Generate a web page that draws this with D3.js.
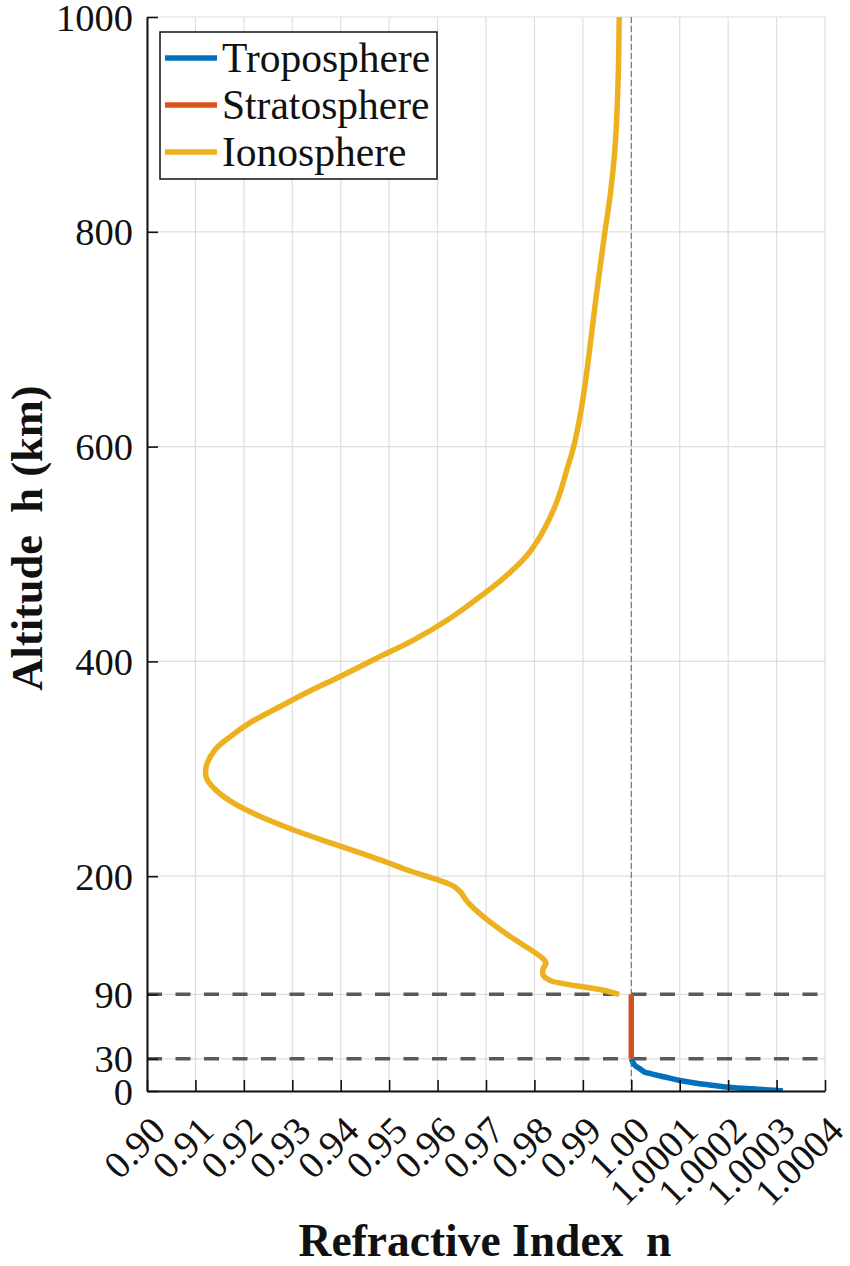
<!DOCTYPE html>
<html>
<head>
<meta charset="utf-8">
<script src="https://cdn.jsdelivr.net/npm/d3@7"></script>
<style>
  html, body { margin: 0; padding: 0; background: #ffffff; }
  svg { display: block; }
  text { font-family: "Liberation Serif", "Times New Roman", serif; fill: #111; }
</style>
</head>
<body>
<svg id="chart" width="850" height="1266"></svg>
<script>
// ---------------- data ----------------
const seriesNames = ["Troposphere", "Stratosphere", "Ionosphere"];
const seriesColors = ["#0072BD", "#D95319", "#EDB120"];

// [altitude km, refractive index]
const troposphere = [
  [30, 1.0000000], [27, 1.0000030], [24, 1.0000070], [21, 1.0000170],
  [18, 1.0000260], [16, 1.0000420], [13, 1.0000700], [10, 1.0000980],
  [8, 1.0001250], [6, 1.0001550], [4, 1.0001900], [3, 1.0002150],
  [2, 1.0002500], [1, 1.0002850], [0, 1.0003130]
];
const stratosphere = [
  [30, 1.0000000], [90, 1.0000000]
];
const ionosphere = [
  [90, 0.9975], [94.5, 0.9935], [97, 0.9900], [100, 0.9860], [103, 0.9832],
  [108, 0.9818], [114, 0.9818], [119, 0.9824], [123, 0.9818], [127, 0.9807],
  [136, 0.9777], [146, 0.9743], [160, 0.9701], [175, 0.9664], [186, 0.9646],
  [191, 0.9632], [197, 0.9598], [206, 0.9536], [213, 0.9495], [228, 0.9399],
  [243, 0.9303], [257, 0.9227], [268, 0.9179], [279, 0.9145], [290, 0.9124],
  [297, 0.9121], [305, 0.9124], [318, 0.9141], [330, 0.9172], [343, 0.9213],
  [358, 0.9275], [371, 0.9330], [386, 0.9399], [402, 0.9470], [420, 0.9551],
  [439, 0.9622], [455, 0.9672], [470, 0.9716], [485, 0.9755], [500, 0.9787],
  [515, 0.9810], [530, 0.9828], [545, 0.9843], [560, 0.9855], [580, 0.9868],
  [600, 0.9881], [628, 0.9894], [656, 0.9904], [694, 0.9915], [731, 0.9925],
  [765, 0.9935], [800, 0.99455], [836, 0.9957], [882, 0.9967], [945, 0.9973],
  [1000, 0.9975]
];

const xTicks = [0.90, 0.91, 0.92, 0.93, 0.94, 0.95, 0.96, 0.97, 0.98, 0.99, 1.00,
                1.0001, 1.0002, 1.0003, 1.0004];
const xTickLabels = ["0.90", "0.91", "0.92", "0.93", "0.94", "0.95", "0.96", "0.97",
                     "0.98", "0.99", "1.00", "1.0001", "1.0002", "1.0003", "1.0004"];
const yTicks = [0, 30, 90, 200, 400, 600, 800, 1000];
const boundaryAltitudes = [30, 90];
const referenceIndex = 1.00;

const xLabel = "Refractive Index  n";
const yLabel = "Altitude  h (km)";

// ---------------- layout ----------------
const L = 147, R = 825, T = 17, B = 1091;
const svg = d3.select("#chart");

// piecewise x scale: 0.90..1.00 and 1.00..1.0004 share equal tick spacing
const x = d3.scaleLinear().domain([0.90, 1.00, 1.0004]).range([L, L + (R - L) * 10 / 14, R]);
const y = d3.scaleLinear().domain([0, 1000]).range([B, T]);

// grid
const grid = svg.append("g").attr("class", "grid");
grid.selectAll("line.vg").data(xTicks).join("line")
  .attr("x1", d => x(d)).attr("x2", d => x(d))
  .attr("y1", T).attr("y2", B)
  .attr("stroke", "#dedede").attr("stroke-width", 1.2);
grid.selectAll("line.hg").data(yTicks).join("line")
  .attr("x1", L).attr("x2", R)
  .attr("y1", d => y(d)).attr("y2", d => y(d))
  .attr("stroke", "#dedede").attr("stroke-width", 1.2);

// dashed boundary lines
svg.append("g").selectAll("line").data(boundaryAltitudes).join("line")
  .attr("x1", L).attr("x2", R)
  .attr("y1", d => y(d)).attr("y2", d => y(d))
  .attr("stroke", "#595959").attr("stroke-width", 3.5)
  .attr("stroke-dasharray", "15,13.5");

// clip
svg.append("clipPath").attr("id", "clip")
  .append("rect").attr("x", L).attr("y", T).attr("width", R - L).attr("height", B - T);

const line = d3.line().x(d => x(d[1])).y(d => y(d[0])).curve(d3.curveCatmullRom.alpha(0.5));
const plot = svg.append("g").attr("clip-path", "url(#clip)");
[troposphere, stratosphere, ionosphere].forEach((s, i) => {
  plot.append("path")
    .datum(s)
    .attr("d", line)
    .attr("fill", "none")
    .attr("stroke", seriesColors[i])
    .attr("stroke-width", 5.5)
    .attr("stroke-linejoin", "round")
    .attr("stroke-linecap", "butt");
});

// vertical reference line at n = 1
svg.append("line")
  .attr("x1", x(referenceIndex)).attr("x2", x(referenceIndex))
  .attr("y1", T).attr("y2", B)
  .attr("stroke", "#6e6e6e").attr("stroke-width", 1.1)
  .attr("stroke-dasharray", "6,3");

// axes
const yAxis = d3.axisLeft(y).tickValues(yTicks).tickFormat(d3.format("d"))
  .tickSizeInner(-11).tickSizeOuter(0).tickPadding(14);
const gy = svg.append("g").attr("transform", `translate(${L},0)`).call(yAxis);
gy.select(".domain").attr("stroke", "#111").attr("stroke-width", 2);
gy.selectAll(".tick line").attr("stroke", "#111").attr("stroke-width", 1.6);
gy.selectAll(".tick text")
  .attr("font-size", 38.5).attr("fill", "#111")
  .attr("font-family", '"Liberation Serif", "Times New Roman", serif')
  .attr("dy", "0.34em");

const xAxis = d3.axisBottom(x).tickValues(xTicks)
  .tickFormat((d, i) => xTickLabels[i])
  .tickSizeInner(-11).tickSizeOuter(0);
const gx = svg.append("g").attr("transform", `translate(0,${B})`).call(xAxis);
gx.select(".domain").attr("stroke", "#111").attr("stroke-width", 2);
gx.selectAll(".tick line").attr("stroke", "#111").attr("stroke-width", 1.6);
gx.selectAll(".tick text")
  .attr("font-size", 38.5).attr("fill", "#111")
  .attr("font-family", '"Liberation Serif", "Times New Roman", serif')
  .attr("x", 0).attr("y", 0).attr("dy", null)
  .attr("text-anchor", "end")
  .attr("transform", "translate(20,42) rotate(-45)");

// axis labels
svg.append("text")
  .attr("x", 485).attr("y", 1256)
  .attr("text-anchor", "middle")
  .attr("font-size", 45.5).attr("font-weight", "bold")
  .style("white-space", "pre")
  .text(xLabel);
svg.append("text")
  .attr("transform", "translate(42,538) rotate(-90)")
  .attr("text-anchor", "middle")
  .attr("font-size", 44.5).attr("font-weight", "bold")
  .style("white-space", "pre")
  .text(yLabel);

// legend
const lg = svg.append("g");
lg.append("rect")
  .attr("x", 160).attr("y", 32).attr("width", 277).attr("height", 147)
  .attr("fill", "#ffffff").attr("stroke", "#111").attr("stroke-width", 1.5);
const rowY = [58, 105, 152];
seriesNames.forEach((name, i) => {
  lg.append("line")
    .attr("x1", 165).attr("x2", 217)
    .attr("y1", rowY[i]).attr("y2", rowY[i])
    .attr("stroke", seriesColors[i]).attr("stroke-width", 5.5);
  lg.append("text")
    .attr("x", 222).attr("y", rowY[i] + 13.5)
    .attr("font-size", 41.5).attr("fill", "#1a1a1a")
    .text(name);
});
</script>
</body>
</html>
